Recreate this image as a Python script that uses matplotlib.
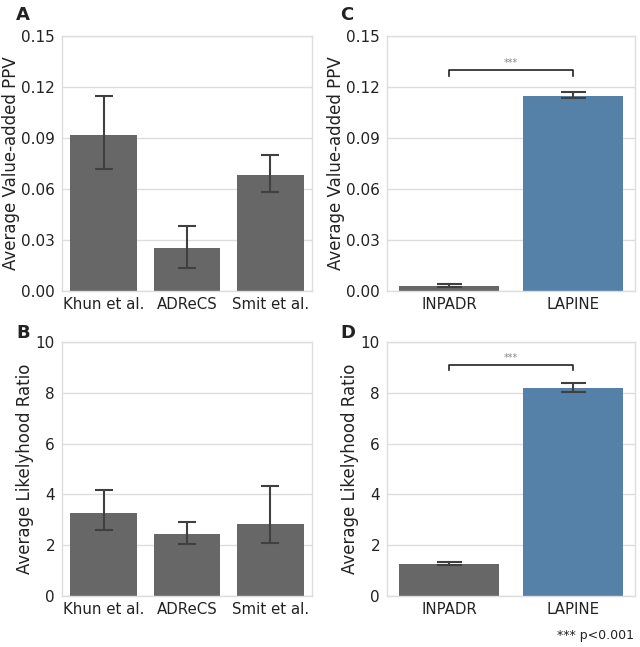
import matplotlib
matplotlib.use("Agg")
import matplotlib.pyplot as plt
import numpy as np

# data
ref_names = ["Khun et al.", "ADReCS", "Smit et al."]
ref_ppv = [0.0915, 0.0255, 0.0685]
ref_ppv_lo = [0.0715, 0.0135, 0.058]
ref_ppv_hi = [0.1148, 0.038, 0.080]
ref_lr = [3.25, 2.43, 2.85]
ref_lr_lo = [2.58, 2.05, 2.10]
ref_lr_hi = [4.18, 2.93, 4.32]

cmp_names = ["INPADR", "LAPINE"]
cmp_ppv = [0.0032, 0.115]
cmp_ppv_lo = [0.0025, 0.1135]
cmp_ppv_hi = [0.0042, 0.1172]
cmp_lr = [1.27, 8.18]
cmp_lr_lo = [1.24, 8.03]
cmp_lr_hi = [1.32, 8.38]

GRAY = "#676767"
BLUE = "#5580a8"
ERR = "#404040"

plt.rcParams["font.family"] = "DejaVu Sans"

fig = plt.figure(figsize=(6.4, 6.47), dpi=100)
W, H = 640.0, 647.0


def make_ax(x0, y0, x1, y1):
    return fig.add_axes([x0 / W, 1 - y1 / H, (x1 - x0) / W, (y1 - y0) / H])


def draw(ax, names, vals, lo, hi, colors, ymax, ticks, fmt, ylabel, capsize):
    x = np.arange(len(names))
    vals = np.array(vals)
    yerr = [vals - np.array(lo), np.array(hi) - vals]
    ax.set_axisbelow(True)
    ax.bar(x, vals, width=0.8, color=colors, zorder=2)
    ax.errorbar(x, vals, yerr=yerr, fmt="none", ecolor=ERR, elinewidth=1.5,
                capsize=capsize, capthick=1.5, zorder=3)
    ax.set_ylim(0, ymax)
    ax.set_xlim(-0.5, len(names) - 0.5)
    ax.set_yticks(ticks)
    ax.set_yticklabels([fmt.format(t) for t in ticks])
    ax.set_xticks(x)
    ax.set_xticklabels(names)
    ax.grid(axis="y", color="#dddddd", linewidth=1)
    ax.grid(axis="x", visible=False)
    for s in ax.spines.values():
        s.set_color("#dddddd")
        s.set_linewidth(1)
    ax.tick_params(axis="x", length=0, labelsize=10.8, colors="#222222", pad=4)
    ax.tick_params(axis="y", length=0, labelsize=11, colors="#222222", pad=5)
    ax.set_ylabel(ylabel, fontsize=12, color="#222222", labelpad=1)


def bracket(ax, y, dy, text):
    ax.plot([0, 0, 1, 1], [y - dy, y, y, y - dy], color="#222222", lw=1.2, zorder=4)
    ax.text(0.5, y + dy * 0.3, text, ha="center", va="bottom", fontsize=7, color="#888888")


axA = make_ax(62, 36, 312, 291)
draw(axA, ref_names, ref_ppv, ref_ppv_lo, ref_ppv_hi, GRAY, 0.15,
     [0, 0.03, 0.06, 0.09, 0.12, 0.15], "{:.2f}", "Average Value-added PPV", 6.3)

axC = make_ax(387, 36, 635, 291)
draw(axC, cmp_names, cmp_ppv, cmp_ppv_lo, cmp_ppv_hi, [GRAY, BLUE], 0.15,
     [0, 0.03, 0.06, 0.09, 0.12, 0.15], "{:.2f}", "Average Value-added PPV", 9)
bracket(axC, 0.130, 0.0035, "***")

axB = make_ax(62, 342, 312, 596)
draw(axB, ref_names, ref_lr, ref_lr_lo, ref_lr_hi, GRAY, 10,
     [0, 2, 4, 6, 8, 10], "{:d}", "Average Likelyhood Ratio", 6.3)

axD = make_ax(387, 342, 635, 596)
draw(axD, cmp_names, cmp_lr, cmp_lr_lo, cmp_lr_hi, [GRAY, BLUE], 10,
     [0, 2, 4, 6, 8, 10], "{:d}", "Average Likelyhood Ratio", 9)
bracket(axD, 9.1, 0.22, "***")

for lab, x, y in [("A", 23, 15), ("C", 347, 15), ("B", 23, 333), ("D", 348, 333)]:
    fig.text(x / W, 1 - y / H, lab, fontsize=13, fontweight="bold",
             color="#222222", ha="center", va="center")

fig.text(634 / W, 1 - 635 / H, "*** p<0.001", fontsize=9, ha="right",
         va="center", color="#222222")

fig.savefig("out.png", dpi=100)
